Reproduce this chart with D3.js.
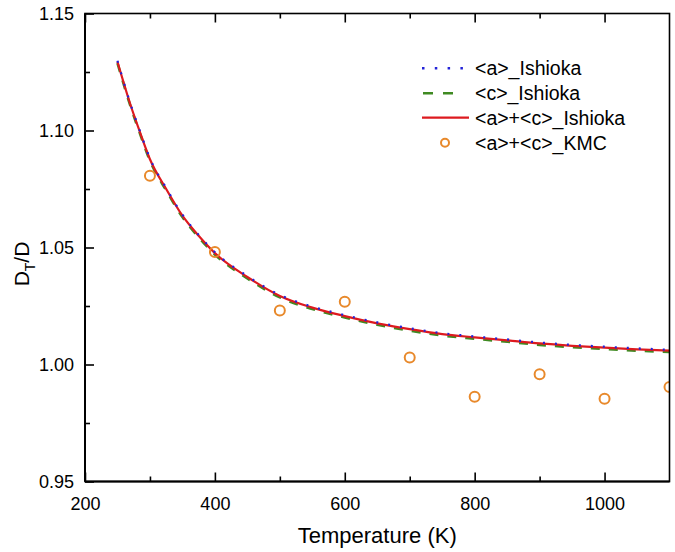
<!DOCTYPE html>
<html><head><meta charset="utf-8">
<script src="https://cdn.jsdelivr.net/npm/d3@7"></script>
<style>
body{margin:0;background:#fff;}
svg{display:block;font-family:"Liberation Sans",Arial,Helvetica,sans-serif;}
</style></head>
<body><svg id="c" width="675" height="552"></svg>
<script>
const temps = [250,270,285,300,325,350,375,400,450,500,550,600,650,700,750,800,850,900,950,1000,1050,1100];
const aIshioka = [1.1298,1.1114,1.0994,1.0881,1.0754,1.0640,1.0554,1.0480,1.0378,1.0297,1.0247,1.0211,1.0180,1.0155,1.0134,1.0120,1.0107,1.0094,1.0084,1.0076,1.0069,1.0063];
const cIshioka = [1.1288,1.1104,1.0984,1.0871,1.0744,1.0630,1.0544,1.0470,1.0368,1.0287,1.0237,1.0201,1.0170,1.0145,1.0124,1.0110,1.0097,1.0084,1.0074,1.0066,1.0059,1.0053];
const acIshioka = [1.1294,1.1110,1.0990,1.0877,1.0750,1.0636,1.0550,1.0476,1.0374,1.0293,1.0243,1.0207,1.0176,1.0151,1.0130,1.0116,1.0103,1.0090,1.0080,1.0072,1.0065,1.0059];
const kmcT = [300,400,500,600,700,800,900,1000,1100];
const kmcVal = [1.0807,1.0481,1.0231,1.0268,1.0030,0.9862,0.9958,0.9854,0.9904];
const xTicks = [200,400,600,800,1000];
const yTicks = [0.95,1.00,1.05,1.10,1.15];
const legendLabels = ["<a>_Ishioka","<c>_Ishioka","<a>+<c>_Ishioka","<a>+<c>_KMC"];

const svg = d3.select("#c");
const L=85, R=669.5, T=13.5, B=481.5;
const x = d3.scaleLinear().domain([200,1100]).range([L,R]);
const y = d3.scaleLinear().domain([0.95,1.15]).range([B,T]);

svg.append("defs").append("clipPath").attr("id","clip")
  .append("rect").attr("x",L).attr("y",T).attr("width",R-L).attr("height",B-T);

const colBlue="#2323d8", colGreen="#3f8a22", colRed="#dd1a1f", colOrange="#e8892b";

// lines
const line = d3.line().x(d=>x(d[0])).y(d=>y(d[1])).curve(d3.curveMonotoneX);
const g = svg.append("g").attr("clip-path","url(#clip)");
g.append("path").datum(temps.map((t,i)=>[t,cIshioka[i]]))
  .attr("d",line).attr("fill","none").attr("stroke",colGreen).attr("stroke-width",2.6).attr("stroke-dasharray","9,9");
g.append("path").datum(temps.map((t,i)=>[t,acIshioka[i]]))
  .attr("d",line).attr("fill","none").attr("stroke",colRed).attr("stroke-width",2.2);
g.append("path").datum(temps.map((t,i)=>[t,aIshioka[i]]))
  .attr("d",line).attr("fill","none").attr("stroke",colBlue).attr("stroke-width",2.2).attr("stroke-dasharray","2,10");
g.selectAll("circle.k").data(kmcT.map((t,i)=>[t,kmcVal[i]])).enter().append("circle")
  .attr("cx",d=>x(d[0])).attr("cy",d=>y(d[1])).attr("r",5)
  .attr("fill","none").attr("stroke",colOrange).attr("stroke-width",2);

// axes
const axStyle = sel=>{sel.select(".domain").remove(); sel.selectAll("line").attr("stroke","#000").attr("stroke-width",1.6);};
const minorX = d3.range(300,1100,200);
const minorY = [0.975,1.025,1.075,1.125];

// bottom
const bx = svg.append("g").attr("transform",`translate(0,${B})`)
  .call(d3.axisBottom(x).tickValues(xTicks).tickSizeInner(-9).tickSizeOuter(0).tickPadding(16).tickFormat(d3.format("d")));
axStyle(bx);
bx.selectAll("text").attr("font-size",18).attr("fill","#000").attr("font-family","Liberation Sans, Arial");
svg.append("g").attr("transform",`translate(0,${B})`)
  .call(d3.axisBottom(x).tickValues(minorX).tickSize(-5).tickFormat("")).call(axStyle);
// top
svg.append("g").attr("transform",`translate(0,${T})`)
  .call(d3.axisTop(x).tickValues(xTicks).tickSize(-9).tickFormat("")).call(axStyle);
svg.append("g").attr("transform",`translate(0,${T})`)
  .call(d3.axisTop(x).tickValues(minorX).tickSize(-5).tickFormat("")).call(axStyle);
// left
const ly = svg.append("g").attr("transform",`translate(${L},0)`)
  .call(d3.axisLeft(y).tickValues(yTicks).tickSizeInner(-9).tickSizeOuter(0).tickPadding(11).tickFormat(d3.format(".2f")));
axStyle(ly);
ly.selectAll("text").attr("font-size",18).attr("fill","#000").attr("font-family","Liberation Sans, Arial");
svg.append("g").attr("transform",`translate(${L},0)`)
  .call(d3.axisLeft(y).tickValues(minorY).tickSize(-5).tickFormat("")).call(axStyle);

// frame
svg.append("rect").attr("x",L).attr("y",T).attr("width",R-L).attr("height",B-T)
  .attr("fill","none").attr("stroke","#000").attr("stroke-width",1.6);
svg.append("line").attr("x1",L).attr("x2",L).attr("y1",T).attr("y2",B).attr("stroke","#000").attr("stroke-width",2);
svg.append("line").attr("x1",L).attr("x2",R).attr("y1",B).attr("y2",B).attr("stroke","#000").attr("stroke-width",2);

// axis titles
svg.append("text").attr("x",(L+R)/2).attr("y",543).attr("text-anchor","middle")
  .attr("font-size",22).attr("fill","#000").text("Temperature (K)");
const yl = svg.append("text").attr("transform","translate(29,264) rotate(-90)").attr("text-anchor","middle")
  .attr("font-size",21).attr("fill","#000");
yl.append("tspan").text("D");
yl.append("tspan").attr("font-size",14).attr("dy",6).text("T");
yl.append("tspan").attr("dy",-6).text("/D");

// legend
const rows = [68.3,93.3,117.7,142.7];
const lg = svg.append("g");
lg.append("line").attr("x1",422).attr("x2",468).attr("y1",rows[0]).attr("y2",rows[0])
  .attr("stroke",colBlue).attr("stroke-width",2.5).attr("stroke-dasharray","2.5,10.3");
lg.append("line").attr("x1",423).attr("x2",453).attr("y1",rows[1]).attr("y2",rows[1])
  .attr("stroke",colGreen).attr("stroke-width",2.6).attr("stroke-dasharray","10,10");
lg.append("line").attr("x1",422).attr("x2",469).attr("y1",rows[2]).attr("y2",rows[2])
  .attr("stroke",colRed).attr("stroke-width",2.2);
lg.append("circle").attr("cx",445).attr("cy",rows[3]).attr("r",4)
  .attr("fill","none").attr("stroke",colOrange).attr("stroke-width",2);
lg.selectAll("text.l").data(legendLabels).enter().append("text")
  .attr("x",475).attr("y",(d,i)=>rows[i]+7).attr("font-size",19.5).attr("fill","#000").text(d=>d);
</script></body></html>
